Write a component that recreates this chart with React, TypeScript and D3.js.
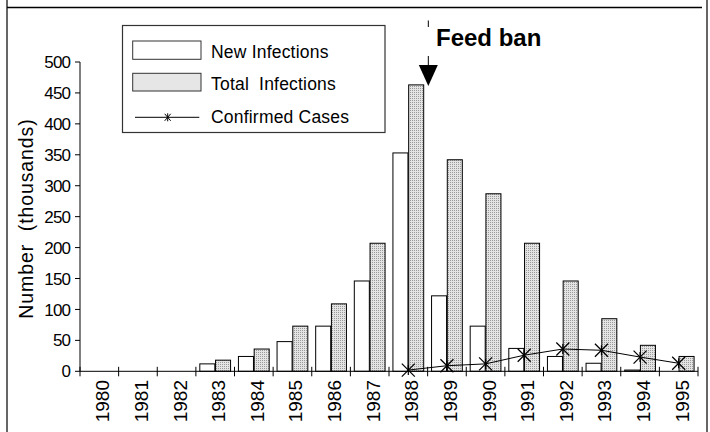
import { useEffect } from "react";
import * as d3 from "d3";

const years = ["1980", "1981", "1982", "1983", "1984", "1985", "1986", "1987", "1988", "1989", "1990", "1991", "1992", "1993", "1994", "1995"];
const newInfections = [0, 0, 0, 12, 24, 48, 73, 146, 353, 122, 73, 37, 24, 13, 2, 0];
const totalInfections = [0, 0, 0, 18, 36, 73, 109, 207, 463, 342, 287, 207, 146, 85, 42, 24];
const caseYears = ["1988", "1989", "1990", "1991", "1992", "1993", "1994", "1995"];
const confirmedCases = [2, 9, 12, 26, 36, 34, 23, 13];
const yTicks = [0, 50, 100, 150, 200, 250, 300, 350, 400, 450, 500];

const W = 710;
const H = 432;
const FONT = "'Liberation Sans', Arial, sans-serif";

export default function App() {
  useEffect(() => {
    document.body.style.margin = "0";
  }, []);

  const x = d3.scaleBand<string>().domain(years).range([80, 698]).padding(0);
  const bw = x.bandwidth();
  const inner = d3.scaleBand<string>().domain(["new", "total"]).range([0, bw]).paddingInner(0.045).paddingOuter(0.25);
  const y = d3.scaleLinear().domain([0, 500]).range([371.3, 62]);
  const cx = (yr: string) => (x(yr) ?? 0) + bw / 2;

  const caseLine = d3
    .line<number>()
    .x((_, i) => cx(caseYears[i]))
    .y((d) => y(d));

  const marker = (px: number, py: number, k: string) => (
    <g key={k} stroke="#000" strokeWidth={1.2}>
      <line x1={px - 6.5} y1={py - 6.5} x2={px + 6.5} y2={py + 6.5} />
      <line x1={px - 6.5} y1={py + 6.5} x2={px + 6.5} y2={py - 6.5} />
      <line x1={px} y1={py - 5} x2={px} y2={py + 5} />
    </g>
  );

  const banX = (x("1988") ?? 0) + bw + 0.7;
  const boundaries = d3.range(years.length + 1).map((i) => 80 + i * bw);

  return (
    <svg width={W} height={H} style={{ display: "block" }} fontFamily={FONT}>
      <defs>
        <pattern id="stipple" width={2} height={2} patternUnits="userSpaceOnUse">
          <rect width={2} height={2} fill="#e4e4e4" />
          <rect width={1} height={1} fill="#9a9a9a" />
        </pattern>
      </defs>
      <rect width={W} height={H} fill="#fff" />

      {/* frame */}
      <rect x={6} y={0} width={2} height={H} fill="#666" />
      <rect x={706} y={0} width={2} height={H} fill="#666" />
      <line x1={7} x2={702} y1={7.5} y2={7.5} stroke="#000" strokeWidth={1.5} />

      {/* bars */}
      {years.map((yr, i) => (
        <g key={yr}>
          {newInfections[i] > 0 && (
            <rect
              x={(x(yr) ?? 0) + (inner("new") ?? 0)}
              y={y(newInfections[i])}
              width={inner.bandwidth()}
              height={y(0) - y(newInfections[i])}
              fill="#fff"
              stroke="#000"
              strokeWidth={1}
            />
          )}
          {totalInfections[i] > 0 && (
            <rect
              x={(x(yr) ?? 0) + (inner("total") ?? 0)}
              y={y(totalInfections[i])}
              width={inner.bandwidth()}
              height={y(0) - y(totalInfections[i])}
              fill="url(#stipple)"
              stroke="#000"
              strokeWidth={1}
            />
          )}
        </g>
      ))}

      {/* y axis */}
      <line x1={80} x2={80} y1={y(500)} y2={y(0)} stroke="#808080" strokeWidth={2} />
      {yTicks.map((t) => (
        <g key={t}>
          <line x1={75} x2={80} y1={y(t)} y2={y(t)} stroke="#000" strokeWidth={1} />
          <text x={70} y={y(t)} dy="0.36em" textAnchor="end" fontSize={17} letterSpacing={-0.9} fill="#000">
            {t}
          </text>
        </g>
      ))}
      <text
        transform={`translate(33,${(115 + 322) / 2}) rotate(-90)`}
        textAnchor="middle"
        fontSize={19.5}
        letterSpacing={0.9}
        fill="#000"
        style={{ whiteSpace: "pre" }}
      >
        {"Number  (thousands)"}
      </text>

      {/* x axis */}
      <line x1={80} x2={698} y1={y(0)} y2={y(0)} stroke="#000" strokeWidth={1} />
      {boundaries.map((bx, i) => (
        <line key={i} x1={bx} x2={bx} y1={y(0) - 4.5} y2={y(0) + 5} stroke="#000" strokeWidth={1} />
      ))}
      {years.map((yr) => (
        <text
          key={yr}
          transform={`translate(${cx(yr) + 10},380) rotate(-90)`}
          textAnchor="end"
          fontSize={19}
          fill="#000"
        >
          {yr}
        </text>
      ))}

      {/* confirmed cases */}
      <path d={caseLine(confirmedCases) ?? ""} fill="none" stroke="#000" strokeWidth={1} />
      {confirmedCases.map((v, i) => marker(cx(caseYears[i]), y(v), caseYears[i]))}

      {/* feed ban annotation */}
      <line x1={banX} x2={banX} y1={20.5} y2={27} stroke="#000" strokeWidth={1} />
      <line x1={banX} x2={banX} y1={56} y2={66} stroke="#000" strokeWidth={1} />
      <path d={`M${banX - 9.5},65 L${banX + 9.5},65 L${banX},86 Z`} fill="#000" />
      <text x={436} y={45.5} fontSize={24} fontWeight="bold" fill="#000">
        Feed ban
      </text>

      {/* legend */}
      <rect x={122.5} y={25.5} width={262.5} height={107} fill="#fff" stroke="#333" strokeWidth={1.2} />
      <rect x={132.7} y={41} width={68.3} height={18.3} fill="#fff" stroke="#333" strokeWidth={1} />
      <text x={211} y={57.5} fontSize={17.5} letterSpacing={0.2} fill="#000">
        New Infections
      </text>
      <rect x={132.7} y={73.3} width={68.3} height={17.7} fill="#e6e6e6" stroke="#333" strokeWidth={1} />
      <text x={211} y={90} fontSize={17.5} letterSpacing={0.2} fill="#000" style={{ whiteSpace: "pre" }}>
        {"Total  Infections"}
      </text>
      <line x1={135} x2={199.3} y1={117.3} y2={117.3} stroke="#000" strokeWidth={1} />
      <g stroke="#000" strokeWidth={1}>
        <line x1={164.7} x2={170.7} y1={113.8} y2={120.8} />
        <line x1={164.7} x2={170.7} y1={120.8} y2={113.8} />
        <line x1={167.7} x2={167.7} y1={113.3} y2={121.3} />
      </g>
      <text x={211} y={122.5} fontSize={17.5} letterSpacing={0.2} fill="#000">
        Confirmed Cases
      </text>
    </svg>
  );
}
